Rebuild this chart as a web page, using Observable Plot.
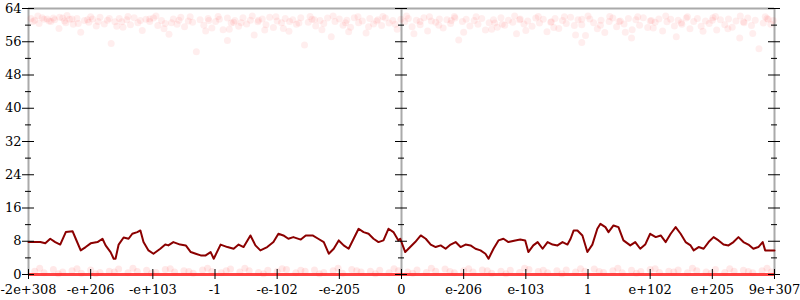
<!DOCTYPE html>
<html>
<head>
<meta charset="utf-8">
<script src="https://cdn.jsdelivr.net/npm/d3@7"></script>
<script src="https://cdn.jsdelivr.net/npm/@observablehq/plot@0.6"></script>
<style>
  html, body { margin: 0; padding: 0; background: #fff; }
  #chart { width: 800px; height: 300px; }
</style>
</head>
<body>
<div id="chart"></div>
<script>
// x tick labels at positions 0..12
const xTickLabels = ["-2e+308","-e+206","-e+103","-1","-e-102","-e-205","0","e-206","e-103","1","e+102","e+205","9e+307"];
const yMajorTicks = [0, 8, 16, 24, 32, 40, 48, 56, 64];
const yMinorTicks = [4, 12, 20, 28, 36, 44, 52, 60];
const axisPositions = [0, 6, 12];

// dark red line: x (tick units), y
const lineX = [0,0.19,0.27,0.35,0.43,0.51,0.6,0.71,0.76,0.84,0.92,1.0,1.11,1.19,1.24,1.32,1.37,1.4,1.45,1.53,1.61,1.67,1.75,1.8,1.85,1.93,2.01,2.12,2.2,2.25,2.33,2.44,2.53,2.61,2.69,2.77,2.85,2.93,2.98,3.09,3.2,3.3,3.38,3.46,3.57,3.65,3.73,3.84,3.94,4.02,4.1,4.18,4.26,4.38,4.46,4.57,4.66,4.75,4.83,4.91,4.99,5.07,5.15,5.23,5.31,5.39,5.47,5.55,5.63,5.71,5.79,5.87,5.95,5.98,6.06,6.14,6.22,6.31,6.39,6.47,6.55,6.63,6.71,6.79,6.87,6.95,7.03,7.11,7.19,7.27,7.35,7.4,7.48,7.56,7.64,7.72,7.83,7.91,7.99,8.04,8.12,8.19,8.27,8.35,8.43,8.51,8.59,8.67,8.72,8.77,8.83,8.91,8.99,9.07,9.15,9.2,9.28,9.33,9.41,9.49,9.57,9.68,9.76,9.84,9.92,10.0,10.09,10.17,10.25,10.33,10.41,10.49,10.57,10.65,10.7,10.78,10.86,10.94,11.02,11.1,11.18,11.26,11.34,11.42,11.5,11.58,11.66,11.74,11.81,11.85,11.93,12.0];
const lineY = [7.8,7.8,7.5,8.6,7.8,7.2,10.2,10.4,8.6,5.8,6.6,7.5,7.8,8.6,7.0,5.4,3.8,3.8,7.2,8.9,8.6,9.8,10.2,10.6,7.8,5.8,5.0,6.2,7.2,7.0,7.8,7.2,7.0,5.4,5.0,4.6,4.6,5.4,3.8,7.2,6.6,6.2,7.2,6.6,9.4,7.0,5.8,6.6,7.8,9.8,9.4,8.6,9.0,8.4,9.4,9.4,8.6,7.8,5.0,6.2,8.2,7.0,6.2,8.6,11.0,10.2,9.8,8.6,7.8,8.2,11.0,10.2,8.2,8.6,5.4,6.6,7.8,9.4,8.6,7.2,6.6,7.0,6.2,7.2,7.8,6.6,7.2,7.0,6.2,5.8,5.0,3.8,6.2,8.2,8.6,7.8,8.2,8.4,8.2,5.4,7.0,7.8,6.2,7.8,7.2,7.0,7.8,7.2,8.6,10.6,10.6,9.4,5.4,7.2,11.0,12.2,11.4,10.2,11.8,11.4,8.2,7.0,7.8,6.2,7.2,9.8,9.0,9.4,7.8,9.8,11.4,9.8,7.8,7.0,5.8,6.6,6.2,7.8,9.0,8.2,7.2,7.0,7.8,9.0,7.8,7.2,6.2,6.6,7.8,5.8,5.8,5.8];

// faint points near the top: [x, y]
const topPoints = [[0.04,61.6],[0.1,61.2],[0.17,60.4],[0.22,61.8],[0.3,61.5],[0.36,60.9],[0.42,61.3],[0.49,59.2],[0.55,61.7],[0.6,60.6],[0.66,61.4],[0.72,60.2],[0.78,61.6],[0.84,58.3],[0.9,61.1],[0.97,60.7],[1.03,61.5],[1.09,59.8],[1.15,61.9],[1.22,60.3],[1.27,61.2],[1.33,55.6],[1.39,60.8],[1.46,61.6],[1.52,59.5],[1.58,61.3],[1.64,60.1],[1.7,61.8],[1.76,60.6],[1.83,58.7],[1.89,61.4],[1.95,60.9],[2.01,61.7],[2.08,59.9],[2.14,61.1],[2.2,60.4],[2.26,57.8],[2.33,61.5],[2.39,60.2],[2.45,61.9],[2.51,59.6],[2.57,61.0],[2.64,60.7],[2.7,53.6],[2.76,61.3],[2.82,60.0],[2.89,61.6],[2.95,59.3],[3.01,60.9],[3.07,61.4],[3.13,58.9],[3.2,61.7],[3.26,60.5],[3.32,61.1],[3.38,59.7],[3.45,61.8],[3.51,60.3],[3.57,61.2],[3.63,57.6],[3.69,60.8],[3.76,61.5],[3.82,60.1],[3.88,61.9],[3.94,59.4],[4.0,61.0],[4.07,60.6],[4.13,61.6],[4.19,58.5],[4.25,61.3],[4.31,60.2],[4.38,61.8],[4.44,55.2],[4.5,60.7],[4.56,61.4],[4.62,59.8],[4.69,61.1],[4.75,60.4],[4.81,61.7],[4.87,57.2],[4.93,60.9],[5.0,61.5],[5.06,60.0],[5.12,61.2],[5.18,59.5],[5.24,61.8],[5.31,60.6],[5.37,61.0],[5.43,58.1],[5.49,61.6],[5.55,60.3],[5.62,61.3],[5.68,59.9],[5.74,61.7],[5.8,60.5],[5.86,61.1],[5.93,59.0],[5.99,61.4],
[6.05,60.8],[6.11,61.6],[6.17,59.6],[6.24,61.2],[6.3,60.1],[6.36,61.8],[6.42,58.6],[6.48,61.0],[6.55,60.7],[6.61,61.5],[6.67,59.3],[6.73,61.3],[6.79,60.4],[6.86,61.7],[6.92,56.4],[6.98,60.9],[7.04,61.4],[7.1,59.8],[7.17,61.1],[7.23,60.2],[7.29,61.6],[7.35,58.8],[7.41,60.6],[7.48,61.3],[7.54,59.5],[7.6,61.8],[7.66,60.0],[7.72,61.2],[7.79,60.7],[7.85,57.9],[7.91,61.5],[7.97,60.3],[8.03,61.0],[8.1,59.7],[8.16,61.7],[8.22,60.5],[8.28,61.4],[8.34,58.4],[8.41,60.8],[8.47,61.6],[8.53,59.2],[8.59,61.1],[8.65,60.4],[8.72,61.9],[8.78,59.9],[8.84,61.3],[8.9,60.1],[8.96,57.5],[9.03,61.5],[9.09,60.6],[9.15,59.1],[9.21,61.2],[9.27,58.2],[9.34,60.9],[9.4,61.7],[9.46,59.6],[9.52,61.0],[9.58,60.3],[9.65,61.6],[9.71,58.9],[9.77,61.3],[9.83,60.0],[9.89,61.8],[9.96,59.4],[10.02,61.1],[10.08,60.7],[10.14,61.5],[10.2,58.6],[10.27,60.8],[10.33,61.4],[10.39,59.8],[10.45,61.2],[10.51,60.2],[10.58,61.7],[10.64,59.1],[10.7,60.9],[10.76,61.6],[10.82,59.7],[10.89,61.0],[10.95,60.4],[11.01,61.8],[11.07,58.8],[11.13,61.3],[11.2,60.1],[11.26,61.5],[11.32,59.5],[11.38,61.0],[11.44,56.9],[11.51,60.6],[11.57,61.7],[11.63,59.9],[11.69,61.2],[11.75,54.3],[11.82,60.5],[11.88,61.6],[11.94,60.2],[11.98,61.1],
[0.07,60.9],[0.25,61.4],[0.4,61.7],[0.58,61.0],[0.7,61.5],[0.95,61.3],[1.5,60.8],[1.95,61.5],[2.3,60.6],[2.9,61.1],[3.3,60.7],[3.7,61.2],[4.2,60.9],[4.6,61.3],[5.1,60.6],[5.6,61.0],[6.3,60.9],[6.8,61.1],[7.5,60.5],[7.9,61.3],[8.4,60.7],[8.9,61.4],[9.5,60.9],[10.0,61.0],[10.5,60.6],[11.0,61.2],[11.5,60.8],[11.9,61.4],
[0.15,62.2],[0.33,61.0],[0.5,61.9],[0.62,62.3],[0.8,60.4],[1.0,62.0],[1.12,60.9],[1.3,61.6],[1.42,59.7],[1.6,62.1],[1.8,61.1],[2.05,62.2],[2.18,59.1],[2.42,61.2],[2.6,62.0],[2.85,58.6],[3.05,62.1],[3.23,59.0],[3.42,60.6],[3.6,62.2],[3.8,58.8],[3.98,62.0],[4.1,59.2],[4.35,60.5],[4.53,62.1],[4.72,58.9],[4.9,62.2],[5.15,58.4],[5.3,62.0],[5.47,59.6],[5.7,62.1],[5.9,60.2],[6.08,62.2],[6.2,57.9],[6.45,62.0],[6.6,60.0],[6.85,62.1],[7.0,58.3],[7.2,62.0],[7.45,59.0],[7.62,60.2],[7.82,62.2],[8.0,58.7],[8.2,62.1],[8.45,59.4],[8.62,62.0],[8.8,57.6],[9.0,62.2],[9.2,60.0],[9.35,62.1],[9.6,58.3],[9.8,62.0],[10.05,59.3],[10.25,62.2],[10.42,57.2],[10.6,62.0],[10.85,58.5],[11.05,62.1],[11.25,59.1],[11.45,62.2],[11.65,58.0],[11.85,62.0],[8.9,55.8],[3.2,56.3],[9.7,56.9]];

// faint points just above zero: [x, y]
const bottomPoints = [[0.1,0.8],[0.25,0.4],[0.4,1.2],[0.55,0.6],[0.7,0.9],[0.85,0.3],[1.0,1.1],[1.15,0.5],[1.3,0.8],[1.45,1.3],[1.6,0.4],[1.75,0.7],[1.9,1.0],[2.05,0.5],[2.2,1.2],[2.35,0.6],[2.5,0.9],[2.65,0.3],[2.8,1.1],[2.95,0.7],[3.1,0.4],[3.25,1.3],[3.4,0.6],[3.55,0.9],[3.7,0.5],[3.85,1.0],[4.0,0.7],[4.15,1.2],[4.3,0.4],[4.45,0.8],[4.6,1.1],[4.75,0.5],[4.9,0.9],[5.05,0.3],[5.2,1.2],[5.35,0.6],[5.5,0.8],[5.65,1.0],[5.8,0.4],[5.95,0.9],[6.1,0.6],[6.25,1.1],[6.4,0.5],[6.55,0.8],[6.7,1.3],[6.85,0.4],[7.0,0.9],[7.15,0.6],[7.3,1.1],[7.45,0.3],[7.6,0.8],[7.75,1.0],[7.9,0.5],[8.05,1.2],[8.2,0.7],[8.35,0.4],[8.5,0.9],[8.65,1.1],[8.8,0.6],[8.95,0.8],[9.1,1.3],[9.25,0.5],[9.4,0.9],[9.55,0.4],[9.7,1.0],[9.85,0.7],[10.0,1.2],[10.15,0.5],[10.3,0.8],[10.45,1.1],[10.6,0.4],[10.75,0.9],[10.9,0.6],[11.05,1.2],[11.2,0.5],[11.35,0.8],[11.5,1.0],[11.65,0.4],[11.8,0.9],[11.95,0.6],
[0.18,1.5],[0.48,0.2],[0.78,1.4],[1.08,0.2],[1.38,0.6],[1.68,1.5],[1.98,0.3],[2.28,1.4],[2.58,0.7],[2.88,1.5],[3.18,0.9],[3.48,1.5],[3.78,0.2],[4.08,1.4],[4.38,1.0],[4.68,0.2],[4.98,1.5],[5.28,0.9],[5.58,0.2],[5.88,1.4],[6.18,0.3],[6.48,1.5],[6.78,0.7],[7.08,1.4],[7.38,0.9],[7.68,0.2],[7.98,1.5],[8.28,1.0],[8.58,0.2],[8.88,1.4],[9.18,0.7],[9.48,1.5],[9.78,0.3],[10.08,1.4],[10.38,0.6],[10.68,1.5],[10.98,0.3],[11.28,1.4],[11.58,0.7],[11.88,1.5]];

// dense cluster at exactly zero
const zeroLevel = [0];

const lineData = lineX.map((x, i) => ({x, y: lineY[i]}));
const majorTickData = yMajorTicks.flatMap(y => axisPositions.map(x => ({x, y})));
const minorTickData = yMinorTicks.flatMap(y => axisPositions.map(x => ({x, y})));
const xTickData = xTickLabels.map((label, i) => ({x: i, label}));

const chart = Plot.plot({
  width: 800,
  height: 300,
  marginLeft: 28,
  marginRight: 26,
  marginTop: 8,
  marginBottom: 26,
  style: {fontFamily: "DejaVu Serif", fontSize: "13px", background: "#fff", overflow: "visible"},
  x: {domain: [0, 12], axis: null},
  y: {domain: [0, 64], axis: null},
  marks: [
    Plot.ruleY([64], {stroke: "#aaa", strokeWidth: 2}),
    Plot.ruleX(axisPositions, {y1: 0, y2: 64, stroke: "#aaa", strokeWidth: 2}),
    Plot.dot(topPoints, {x: d => d[0], y: d => d[1], r: 3.5, fill: "red", fillOpacity: 0.065, stroke: "none"}),
    Plot.dot(bottomPoints, {x: d => d[0], y: d => d[1], r: 3.5, fill: "red", fillOpacity: 0.09, stroke: "none"}),
    Plot.ruleY(zeroLevel, {stroke: "#f22", strokeOpacity: 0.85, strokeWidth: 3}),
    Plot.line(lineData, {x: "x", y: "y", stroke: "#8b0000", strokeWidth: 2}),
    Plot.ruleY(majorTickData, {x1: "x", x2: "x", y: "y", insetLeft: -6, insetRight: -6, stroke: "#000", strokeWidth: 1}),
    Plot.ruleY(minorTickData, {x1: "x", x2: "x", y: "y", insetLeft: -3, insetRight: -3, stroke: "#000", strokeWidth: 1}),
    Plot.ruleX(xTickData, {x: "x", y1: 0, y2: 0, insetTop: -5, insetBottom: -5, stroke: "#000", strokeWidth: 1}),
    Plot.text(yMajorTicks, {x: 0, y: d => d, text: d => String(d), textAnchor: "end", dx: -7, fill: "#000", fontSize: 13}),
    Plot.text(xTickData, {x: "x", y: 0, text: "label", dy: 15, fill: "#000", fontSize: 13})
  ]
});
document.getElementById("chart").appendChild(chart);
</script>
</body>
</html>
